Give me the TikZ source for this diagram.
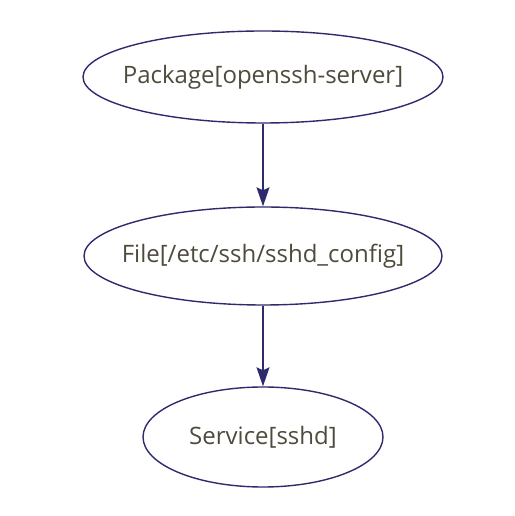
\documentclass[tikz,border=0pt]{standalone}
\usepackage{fontspec}
\setmainfont{Open Sans}
\usetikzlibrary{shapes.geometric, arrows.meta}
\definecolor{edgecolor}{HTML}{2E2A6E}
\definecolor{textcolor}{HTML}{4F4B3C}

\begin{document}
\begin{tikzpicture}[
    x=1pt, y=1pt,
    line width=1.4pt,
    resnode/.style={ellipse, draw=edgecolor, inner xsep=-60pt, inner ysep=0pt,
        font=\fontsize{24}{28}\selectfont, text=textcolor},
    depend/.style={draw=edgecolor, -{Stealth[length=19pt, width=13pt, inset=3pt]}}
]

    % Canvas
    \useasboundingbox (0, 0) rectangle (514, 516);

    % Resources
    \node[resnode, minimum width=360pt, minimum height=92pt] (pkg) at (263, 439) {Package[openssh-server]};
    \node[resnode, minimum width=358pt, minimum height=98pt] (file) at (263, 260) {File[/etc/ssh/sshd\_config]};
    \node[resnode, minimum width=240pt, minimum height=100pt] (svc) at (263, 79) {Service[sshd]};

    % Ordering
    \draw[depend] (pkg) -- (file);
    \draw[depend] (file) -- (svc);

\end{tikzpicture}
\end{document}
